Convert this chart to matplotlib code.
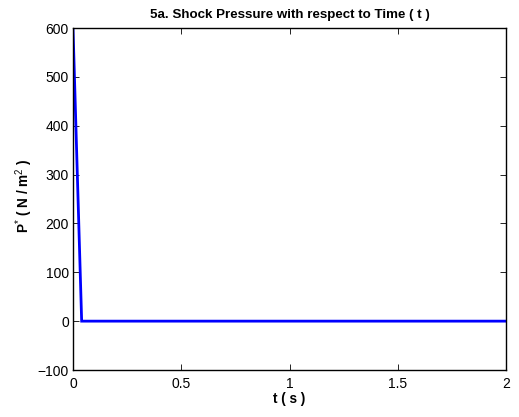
import matplotlib
matplotlib.use("Agg")
import matplotlib.pyplot as plt

plt.rcParams['font.family'] = ['Liberation Sans', 'DejaVu Sans']
plt.rcParams['mathtext.fontset'] = 'custom'
plt.rcParams['mathtext.rm'] = 'Liberation Sans'
plt.rcParams['mathtext.bf'] = 'Liberation Sans:bold'

# Shock pressure time history
time_s = [0.0, 0.04, 0.5, 1.0, 1.5, 2.0]
pressure = [600.0, 0.0, 0.0, 0.0, 0.0, 0.0]

x_ticks = [0, 0.5, 1, 1.5, 2]
x_tick_labels = ['0', '0.5', '1', '1.5', '2']
y_ticks = [-100, 0, 100, 200, 300, 400, 500, 600]
y_tick_labels = ['\u2212100', '0', '100', '200', '300', '400', '500', '600']

fig = plt.figure(figsize=(5.19, 4.17), dpi=100)
ax = fig.add_axes([73 / 519, 47 / 417, 433 / 519, 342 / 417])

ax.plot(time_s, pressure, color='#0000ff', linewidth=2.0, solid_joinstyle='miter')

ax.set_xlim(0, 2)
ax.set_ylim(-100, 600)
ax.set_xticks(x_ticks)
ax.set_xticklabels(x_tick_labels)
ax.set_yticks(y_ticks)
ax.set_yticklabels(y_tick_labels)

ax.tick_params(direction='in', length=4, width=0.6, labelsize=10,
               top=True, right=True)
ax.tick_params(axis='x', pad=5)
ax.tick_params(axis='y', pad=3)
for sp in ax.spines.values():
    sp.set_linewidth(1.0)

ax.set_title('5a. Shock Pressure with respect to Time ( t )',
             fontsize=9.6, fontweight='bold', pad=7)
ax.set_xlabel('t ( s )', fontsize=9.8, fontweight='bold', labelpad=1)
ax.set_ylabel(r'P$^{*}$ ( N / m$^{2}$ )', fontsize=9.8, fontweight='bold')
ax.yaxis.set_label_coords(-0.087, 0.51)

fig.savefig('out.png', dpi=100)
